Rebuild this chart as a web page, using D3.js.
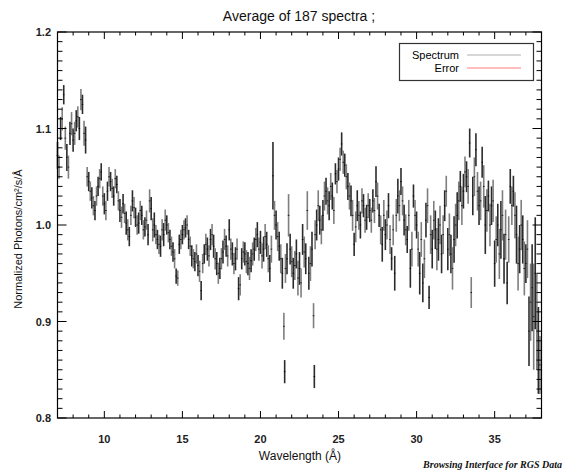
<!DOCTYPE html>
<html>
<head>
<meta charset="utf-8">
<script src="https://cdn.jsdelivr.net/npm/d3@7"></script>
<style>
  html, body { margin: 0; padding: 0; background: #fff; }
  svg { display: block; }
</style>
</head>
<body>
<svg id="chart" width="564" height="471"></svg>
<script>
// ---------------- data ----------------
const titleText = "Average of 187 spectra ;";
const xLabel = "Wavelength (Å)";
const yLabel = "Normalized Photons/cm²/s/Å";
const creditText = "Browsing Interface for RGS Data";
const legendLabels = ["Spectrum", "Error"];

const xTicks = [10, 15, 20, 25, 30, 35];
const yTicks = [0.8, 0.9, 1.0, 1.1, 1.2];
const yTickLabels = ["0.8", "0.9", "1.0", "1.1", "1.2"];

const wavelength = [
  7.0, 7.1, 7.2, 7.3, 7.4, 7.5, 7.6, 7.7, 7.8, 7.9,
  8.0, 8.1, 8.2, 8.3, 8.4, 8.5, 8.6, 8.7, 8.8, 8.9,
  9.0, 9.1, 9.2, 9.3, 9.4, 9.5, 9.6, 9.7, 9.8, 9.9,
  10.0, 10.1, 10.2, 10.3, 10.4, 10.5, 10.6, 10.7, 10.8, 10.9,
  11.0, 11.1, 11.2, 11.3, 11.4, 11.5, 11.6, 11.7, 11.8, 11.9,
  12.0, 12.1, 12.2, 12.3, 12.4, 12.5, 12.6, 12.7, 12.8, 12.9,
  13.0, 13.1, 13.2, 13.3, 13.4, 13.5, 13.6, 13.7, 13.8, 13.9,
  14.0, 14.1, 14.2, 14.3, 14.4, 14.5, 14.6, 14.7, 14.8, 14.9,
  15.0, 15.1, 15.2, 15.3, 15.4, 15.5, 15.6, 15.7, 15.8, 15.9,
  16.0, 16.1, 16.2, 16.3, 16.4, 16.5, 16.6, 16.7, 16.8, 16.9,
  17.0, 17.1, 17.2, 17.3, 17.4, 17.5, 17.6, 17.7, 17.8, 17.9,
  18.0, 18.1, 18.2, 18.3, 18.4, 18.5, 18.6, 18.7, 18.8, 18.9,
  19.0, 19.1, 19.2, 19.3, 19.4, 19.5, 19.6, 19.7, 19.8, 19.9,
  20.0, 20.1, 20.2, 20.3, 20.4, 20.5, 20.6, 20.7, 20.8, 20.9,
  21.0, 21.1, 21.2, 21.3, 21.4, 21.5, 21.55, 21.6, 21.7, 21.8, 21.9,
  22.0, 22.1, 22.2, 22.3, 22.4, 22.5, 22.6, 22.7, 22.8, 22.9,
  23.0, 23.1, 23.2, 23.3, 23.4, 23.45, 23.5, 23.6, 23.7, 23.8, 23.9,
  24.0, 24.1, 24.2, 24.3, 24.4, 24.5, 24.6, 24.7, 24.8, 24.9,
  25.0, 25.1, 25.2, 25.3, 25.4, 25.5, 25.6, 25.7, 25.8, 25.9,
  26.0, 26.1, 26.2, 26.3, 26.4, 26.5, 26.6, 26.7, 26.8, 26.9,
  27.0, 27.1, 27.2, 27.3, 27.4, 27.5, 27.6, 27.7, 27.8, 27.9,
  28.0, 28.1, 28.2, 28.3, 28.4, 28.5, 28.6, 28.7, 28.8, 28.9,
  29.0, 29.1, 29.2, 29.3, 29.4, 29.5, 29.6, 29.7, 29.8, 29.9,
  30.0, 30.1, 30.2, 30.3, 30.4, 30.5, 30.6, 30.7, 30.8, 30.9,
  31.0, 31.1, 31.2, 31.3, 31.4, 31.5, 31.6, 31.7, 31.8, 31.9,
  32.0, 32.1, 32.2, 32.3, 32.4, 32.5, 32.6, 32.7, 32.8, 32.9,
  33.0, 33.1, 33.2, 33.3, 33.4, 33.5, 33.6, 33.7, 33.8, 33.9,
  34.0, 34.1, 34.2, 34.3, 34.4, 34.5, 34.6, 34.7, 34.8, 34.9,
  35.0, 35.1, 35.2, 35.3, 35.4, 35.5, 35.6, 35.7, 35.8, 35.9,
  36.0, 36.1, 36.2, 36.3, 36.4, 36.5, 36.6, 36.7, 36.8, 36.9,
  37.0, 37.1, 37.2, 37.3, 37.4, 37.5, 37.6, 37.7, 37.8, 37.9
];
const flux = [
  1.072, 1.060, 1.100, 1.110, 1.135, 1.090, 1.070, 1.060, 1.095, 1.105,
  1.088, 1.095, 1.108, 1.112, 1.100, 1.130, 1.125, 1.095, 1.088, 1.050,
  1.045, 1.035, 1.028, 1.020, 1.015, 1.030, 1.040, 1.048, 1.055, 1.030,
  1.022, 1.015, 1.035, 1.050, 1.045, 1.038, 1.030, 1.048, 1.042, 1.025,
  1.015, 1.008, 1.022, 1.012, 1.002, 0.995, 0.988, 1.010, 1.025, 1.018,
  1.008, 1.000, 1.002, 1.015, 1.010, 0.995, 0.998, 1.005, 0.990, 1.025,
  1.017, 0.995, 1.000, 0.990, 0.985, 0.980, 0.978, 0.995, 0.990, 1.005,
  1.000, 0.992, 0.985, 0.978, 0.972, 0.965, 0.947, 0.945, 0.980, 0.985,
  0.990, 0.995, 0.997, 1.000, 0.985, 0.978, 0.968, 0.965, 0.962, 0.970,
  0.958, 0.952, 0.932, 0.960, 0.970, 0.980, 0.975, 0.968, 0.985, 0.990,
  0.978, 0.965, 0.960, 0.950, 0.955, 0.965, 0.972, 0.985, 0.978, 0.968,
  0.995, 0.975, 0.970, 0.960, 0.965, 0.975, 0.934, 0.938, 0.965, 0.972,
  0.970, 0.962, 0.960, 0.955, 0.963, 0.970, 0.975, 0.985, 0.990, 0.975,
  0.982, 0.968, 0.975, 0.988, 0.980, 0.965, 0.955, 0.975, 1.051, 1.010,
  1.000, 0.988, 0.978, 0.965, 0.950, 0.895, 0.848, 0.955, 0.965, 1.010, 0.975,
  0.962, 0.950, 0.958, 0.970, 0.945, 0.955, 0.940, 0.985, 0.972, 0.965,
  1.015, 0.950, 0.960, 0.975, 0.906, 0.843, 0.990, 1.000, 1.020, 1.005, 0.995,
  1.010, 1.030, 1.035, 1.025, 1.020, 1.040, 1.030, 1.015, 1.053, 1.045,
  1.058, 1.068, 1.084, 1.065, 1.062, 1.050, 1.040, 1.030, 1.025, 1.010,
  0.980, 0.998, 1.020, 1.010, 1.000, 1.025, 1.020, 1.005, 1.008, 1.020,
  1.015, 1.005, 1.025, 1.015, 1.045, 1.030, 1.010, 0.995, 0.980, 1.010,
  0.990, 1.000, 1.020, 0.985, 0.965, 0.995, 0.950, 1.010, 1.030, 1.020,
  1.045, 1.025, 1.005, 0.995, 0.985, 1.010, 0.955, 0.975, 1.030, 1.010,
  1.000, 0.975, 0.950, 0.985, 0.940, 0.965, 1.005, 1.020, 0.925, 0.990,
  0.975, 1.005, 0.995, 0.975, 0.985, 1.000, 0.970, 0.990, 1.020, 1.035,
  0.975, 0.990, 0.970, 0.955, 0.985, 1.000, 1.010, 1.025, 1.040, 1.020,
  1.035, 1.055, 1.050, 1.040, 1.085, 0.930, 1.030, 1.050, 1.078, 1.035,
  1.020, 1.025, 1.065, 1.040, 1.000, 1.015, 1.030, 1.000, 1.020, 1.025,
  0.960, 0.985, 1.000, 0.970, 0.995, 1.010, 0.965, 0.990, 0.940, 0.985,
  1.040, 1.020, 1.035, 1.010, 0.990, 0.960, 0.975, 1.000, 0.985, 0.955,
  0.960, 0.975, 0.890, 0.920, 0.935, 0.905, 0.950, 0.900, 0.870, 0.855
];
const fluxErr = [
  0.014, 0.012, 0.012, 0.012, 0.010, 0.012, 0.014, 0.012, 0.012, 0.012,
  0.012, 0.012, 0.011, 0.011, 0.012, 0.011, 0.010, 0.013, 0.014, 0.010,
  0.010, 0.010, 0.011, 0.010, 0.010, 0.010, 0.010, 0.010, 0.009, 0.010,
  0.011, 0.010, 0.010, 0.010, 0.010, 0.010, 0.010, 0.010, 0.009, 0.010,
  0.012, 0.011, 0.010, 0.010, 0.012, 0.011, 0.010, 0.010, 0.011, 0.011,
  0.010, 0.010, 0.011, 0.010, 0.010, 0.010, 0.010, 0.010, 0.011, 0.012,
  0.012, 0.012, 0.013, 0.010, 0.010, 0.010, 0.011, 0.011, 0.012, 0.011,
  0.010, 0.010, 0.010, 0.010, 0.010, 0.010, 0.008, 0.008, 0.010, 0.010,
  0.010, 0.010, 0.010, 0.010, 0.010, 0.010, 0.011, 0.010, 0.010, 0.010,
  0.011, 0.011, 0.010, 0.010, 0.010, 0.011, 0.012, 0.011, 0.011, 0.011,
  0.012, 0.011, 0.012, 0.011, 0.011, 0.011, 0.012, 0.011, 0.011, 0.011,
  0.011, 0.011, 0.012, 0.011, 0.012, 0.011, 0.012, 0.011, 0.011, 0.011,
  0.012, 0.012, 0.012, 0.012, 0.012, 0.012, 0.012, 0.012, 0.013, 0.012,
  0.012, 0.013, 0.013, 0.013, 0.013, 0.014, 0.014, 0.014, 0.035, 0.015,
  0.015, 0.015, 0.015, 0.015, 0.016, 0.014, 0.012, 0.015, 0.016, 0.022, 0.016,
  0.016, 0.016, 0.015, 0.015, 0.018, 0.017, 0.015, 0.016, 0.016, 0.016,
  0.020, 0.017, 0.018, 0.018, 0.013, 0.012, 0.015, 0.016, 0.016, 0.015, 0.015,
  0.016, 0.015, 0.014, 0.014, 0.015, 0.014, 0.014, 0.014, 0.011, 0.012,
  0.012, 0.012, 0.012, 0.012, 0.012, 0.013, 0.014, 0.014, 0.016, 0.016,
  0.012, 0.016, 0.016, 0.015, 0.014, 0.013, 0.012, 0.013, 0.013, 0.013,
  0.012, 0.013, 0.012, 0.013, 0.016, 0.014, 0.012, 0.015, 0.018, 0.016,
  0.016, 0.015, 0.013, 0.015, 0.012, 0.016, 0.018, 0.017, 0.018, 0.016,
  0.014, 0.015, 0.016, 0.016, 0.014, 0.016, 0.020, 0.018, 0.012, 0.016,
  0.014, 0.018, 0.022, 0.018, 0.020, 0.020, 0.018, 0.018, 0.012, 0.020,
  0.020, 0.020, 0.020, 0.022, 0.022, 0.020, 0.020, 0.020, 0.016, 0.016,
  0.022, 0.022, 0.020, 0.022, 0.024, 0.022, 0.024, 0.020, 0.016, 0.020,
  0.018, 0.016, 0.016, 0.018, 0.015, 0.016, 0.020, 0.020, 0.017, 0.020,
  0.020, 0.020, 0.016, 0.022, 0.030, 0.022, 0.016, 0.022, 0.020, 0.022,
  0.024, 0.024, 0.022, 0.026, 0.030, 0.026, 0.026, 0.026, 0.022, 0.024,
  0.018, 0.020, 0.016, 0.024, 0.030, 0.028, 0.025, 0.026, 0.025, 0.028,
  0.020, 0.030, 0.036, 0.040, 0.045, 0.055, 0.058, 0.050, 0.045, 0.030
];
if (wavelength.length !== flux.length || flux.length !== fluxErr.length) {
  console.error("length mismatch", wavelength.length, flux.length, fluxErr.length);
}

// ---------------- layout ----------------
const svg = d3.select("#chart");
const L = 57.5, R = 541.5, T = 32, B = 418;
const x = d3.scaleLinear().domain([7, 38]).range([L, R]);
const y = d3.scaleLinear().domain([0.8, 1.2]).range([B, T]);
const font = "'Liberation Sans', Arial, Helvetica, sans-serif";

// error bars
const n = Math.min(wavelength.length, flux.length, fluxErr.length);
const pts = d3.range(n).map(i => ({ w: wavelength[i], v: flux[i], e: fluxErr[i], i }));
const bars = svg.append("g");
bars.selectAll("line.eb").data(pts).enter().append("line")
  .attr("x1", d => x(d.w)).attr("x2", d => x(d.w))
  .attr("y1", d => y(d.v - d.e)).attr("y2", d => y(d.v + d.e))
  .attr("stroke", d => d.i % 2 ? "#707070" : "#141414")
  .attr("stroke-width", 1.6).attr("stroke-opacity", 0.9);
bars.selectAll("line.ctr").data(pts).enter().append("line")
  .attr("x1", d => x(d.w) - 0.8).attr("x2", d => x(d.w) + 0.8)
  .attr("y1", d => y(d.v)).attr("y2", d => y(d.v))
  .attr("stroke", "#000").attr("stroke-width", 0.8);

// frame
svg.append("rect").attr("x", L).attr("y", T).attr("width", R - L).attr("height", B - T)
  .attr("fill", "none").attr("stroke", "#000").attr("stroke-width", 1.2);

// ticks (inward, on all four sides)
const xMinor = d3.range(7, 38.001, 1);
const yMinor = d3.range(0.8, 1.2001, 0.01);
const tg = svg.append("g").attr("stroke", "#000").attr("stroke-width", 1);
xMinor.forEach(v => {
  const major = xTicks.includes(Math.round(v));
  const len = major ? 7 : 3.5;
  tg.append("line").attr("x1", x(v)).attr("x2", x(v)).attr("y1", B).attr("y2", B - len);
  tg.append("line").attr("x1", x(v)).attr("x2", x(v)).attr("y1", T).attr("y2", T + len);
});
yMinor.forEach(v => {
  const major = Math.abs(v * 10 - Math.round(v * 10)) < 1e-6;
  const len = major ? 9 : 5;
  tg.append("line").attr("x1", L).attr("x2", L + len).attr("y1", y(v)).attr("y2", y(v));
  tg.append("line").attr("x1", R).attr("x2", R - len).attr("y1", y(v)).attr("y2", y(v));
});

// tick labels
svg.append("g").selectAll("text").data(xTicks).enter().append("text")
  .attr("x", d => x(d)).attr("y", 443)
  .attr("text-anchor", "middle").attr("font-family", font).attr("font-size", 11)
  .attr("font-weight", "bold").attr("fill", "#222").text(d => d);
svg.append("g").selectAll("text").data(yTicks).enter().append("text")
  .attr("x", 51).attr("y", d => y(d) + 4)
  .attr("text-anchor", "end").attr("font-family", font).attr("font-size", 11)
  .attr("font-weight", "bold").attr("fill", "#222").text((d, i) => yTickLabels[i]);

// title and axis labels
svg.append("text").attr("x", 299).attr("y", 21).attr("text-anchor", "middle")
  .attr("font-family", font).attr("font-size", 14).attr("fill", "#111").text(titleText);
svg.append("text").attr("x", 300).attr("y", 460).attr("text-anchor", "middle")
  .attr("font-family", font).attr("font-size", 12).attr("fill", "#111").text(xLabel);
svg.append("text").attr("transform", "translate(22,239) rotate(-90)").attr("text-anchor", "middle")
  .attr("font-family", font).attr("font-size", 11).attr("fill", "#111").text(yLabel);
svg.append("text").attr("x", 562).attr("y", 468).attr("text-anchor", "end")
  .attr("font-family", "'Liberation Serif', 'Times New Roman', serif").attr("font-style", "italic")
  .attr("font-weight", "bold").attr("font-size", 10).attr("fill", "#111").text(creditText);

// legend
const lg = svg.append("g");
lg.append("rect").attr("x", 399.5).attr("y", 43.5).attr("width", 134).attr("height", 37)
  .attr("fill", "#fff").attr("stroke", "#333").attr("stroke-width", 1.2);
const legendColors = ["#b0b0b0", "#ff8080"];
legendLabels.forEach((t, i) => {
  const yy = 55 + i * 13;
  lg.append("text").attr("x", 459).attr("y", yy + 4).attr("text-anchor", "end")
    .attr("font-family", font).attr("font-size", 11).attr("fill", "#000").text(t);
  lg.append("line").attr("x1", 467).attr("x2", 521).attr("y1", yy).attr("y2", yy)
    .attr("stroke", legendColors[i]).attr("stroke-width", 1.2);
});
</script>
</body>
</html>
